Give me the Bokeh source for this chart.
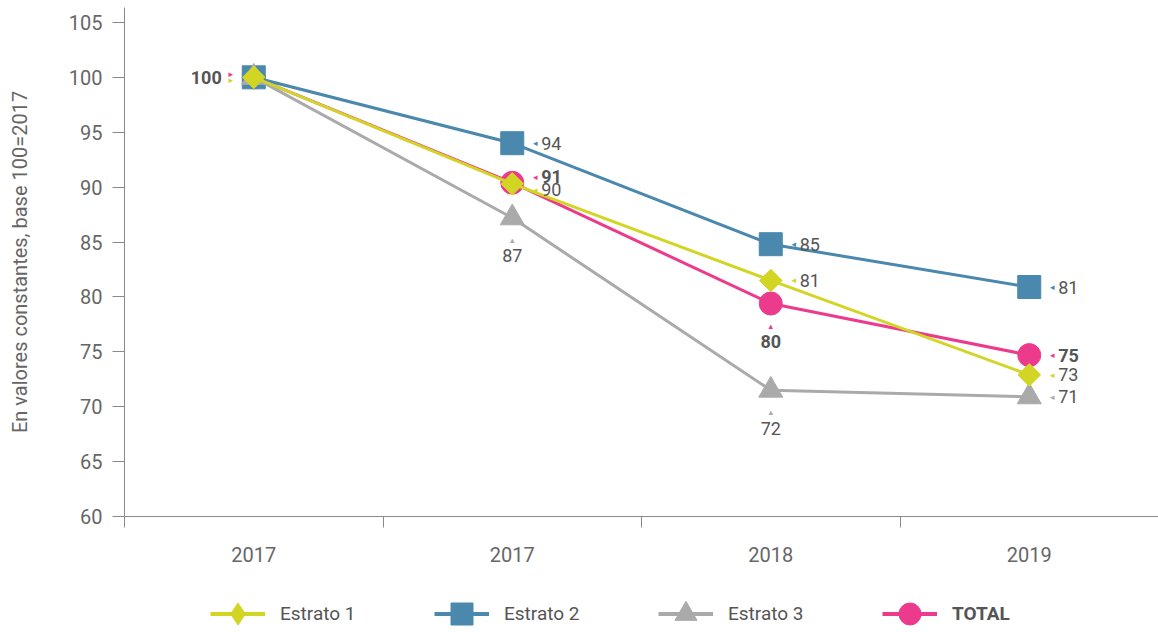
import math
from bokeh.plotting import figure
from bokeh.layouts import column
from bokeh.models import FixedTicker, Legend, LegendItem, ColumnDataSource, Range1d
from bokeh.embed import file_html
from bokeh.resources import INLINE
from bokeh.core.properties import value

# ---------------- data ----------------
categories = ["2017", "2017", "2018", "2019"]
estrato1 = [100, 90.3, 81.5, 72.9]
estrato2 = [100, 94.0, 84.8, 80.9]
estrato3 = [100, 87.2, 71.5, 70.9]
total = [100, 90.4, 79.4, 74.7]
estrato1_labels = ["100", "90", "81", "73"]
estrato2_labels = ["", "94", "85", "81"]
estrato3_labels = ["", "87", "72", "71"]
total_labels = ["100", "91", "80", "75"]
y_ticks = [60, 65, 70, 75, 80, 85, 90, 95, 100, 105]

# ---------------- style ----------------
YEL = "#d2d524"
BLU = "#4a88ad"
GRY = "#aaaaaa"
PNK = "#ec3b8c"
TXT = "#555555"
AX = "#8a8a8a"
FONT = "Roboto"

xs = [i + 0.5 for i in range(len(categories))]

p = figure(width=1158, height=566, output_backend="svg", toolbar_location=None,
           x_range=Range1d(0, 4), y_range=Range1d(60, 106.36),
           min_border_left=124, min_border_right=0, min_border_top=7,
           min_border_bottom=50)
p.outline_line_color = None
p.xgrid.grid_line_color = None
p.ygrid.grid_line_color = None
p.background_fill_color = "white"
p.border_fill_color = "white"

# x axis
p.xaxis.ticker = FixedTicker(ticks=xs, minor_ticks=[0, 1, 2, 3])
p.xaxis.major_label_overrides = {x: c for x, c in zip(xs, categories)}
p.xaxis.major_tick_out = 0
p.xaxis.major_tick_in = 0
p.xaxis.minor_tick_out = 11
p.xaxis.minor_tick_in = 0
p.xaxis.minor_tick_line_color = AX
p.xaxis.axis_line_color = AX
p.xaxis.major_label_standoff = 19
p.xaxis.major_label_text_font = FONT
p.xaxis.major_label_text_font_size = "20px"
p.xaxis.major_label_text_color = "#666666"

# y axis
p.yaxis.ticker = FixedTicker(ticks=y_ticks)
p.yaxis.minor_tick_line_color = None
p.yaxis.major_tick_out = 12
p.yaxis.major_tick_in = 0
p.yaxis.major_tick_line_color = AX
p.yaxis.axis_line_color = AX
p.yaxis.major_label_standoff = 10
p.yaxis.major_label_text_font = FONT
p.yaxis.major_label_text_font_size = "20px"
p.yaxis.major_label_text_color = "#666666"
p.yaxis.axis_label = "En valores constantes, base 100=2017"
p.yaxis.axis_label_text_font = FONT
p.yaxis.axis_label_text_font_style = "normal"
p.yaxis.axis_label_text_font_size = "20px"
p.yaxis.axis_label_text_color = "#666666"
p.yaxis.axis_label_standoff = 34

# name, values, labels, colour, marker, size, angle, label weight, legend marker
series = [
    ("TOTAL", total, total_labels, PNK, "circle", 23, 0, "bold", "circle"),
    ("Estrato 2", estrato2, estrato2_labels, BLU, "square", 23, 0, "normal", "square"),
    ("Estrato 3", estrato3, estrato3_labels, GRY, "triangle", 24, 0, "normal", "triangle"),
    ("Estrato 1", estrato1, estrato1_labels, YEL, "square", 16, math.pi / 4, "normal", "diamond"),
]

for name, vals, labs, col, mk, sz, ang, _, _ in series:
    src = ColumnDataSource(dict(x=xs, y=vals))
    p.line("x", "y", source=src, line_color=col, line_width=3)
    p.scatter("x", "y", source=src, marker=mk, size=sz, angle=ang,
              fill_color=col, line_color=col)

# label placement (style, not data)
below = {("Estrato 3", 1), ("Estrato 3", 2), ("TOTAL", 2)}
left = {("TOTAL", 0)}
nudge = {("TOTAL", 1): -6, ("Estrato 1", 1): 6}


def pointer(x, y, glyph, col, xo, yo):
    p.text([x], [y], text=[glyph], x_offset=xo, y_offset=yo, text_align="center",
           text_baseline="middle", text_font=value("DejaVu Sans"),
           text_font_size="9px", text_color=col)


def label(x, y, lab, xo, yo, align, weight):
    p.text([x], [y], text=[lab], x_offset=xo, y_offset=yo, text_align=align,
           text_baseline="middle", text_font=value(FONT),
           text_font_size="18px", text_color=TXT, text_font_style=weight)


for name, vals, labs, col, mk, sz, ang, weight, _ in series:
    for i, (x, y, lab) in enumerate(zip(xs, vals, labs)):
        if lab == "":
            continue
        key = (name, i)
        if i == 0 and key not in left:
            continue
        dy = nudge.get(key, 0)
        if key in below:
            pointer(x, y, "\u25b4", col, 0, 22)
            label(x, y, lab, 0, 38, "center", weight)
        elif key in left:
            for c, oy in ((PNK, -3), (YEL, 3)):
                pointer(x, y, "\u25b8", c, -23, oy)
            label(x, y, lab, -32, 0, "right", weight)
        else:
            pointer(x, y, "\u25c2", col, 23, dy)
            label(x, y, lab, 29, dy, "left", weight)

# ---------------- legend strip ----------------
lp = figure(width=1158, height=66, output_backend="svg", toolbar_location=None,
            x_range=Range1d(0, 1), y_range=Range1d(0, 1),
            min_border_left=124, min_border_right=0, min_border_top=0,
            min_border_bottom=0, x_axis_type=None, y_axis_type=None)
lp.outline_line_color = None
lp.xgrid.grid_line_color = None
lp.ygrid.grid_line_color = None

# legend item positions, relative to the (aligned) frame's left edge
legend_x = {"Estrato 1": 86, "Estrato 2": 310, "Estrato 3": 534, "TOTAL": 758}
for name, vals, labs, col, mk, sz, ang, weight, lmk in series:
    # off-screen proxies so the legend has glyphs to draw
    lr = lp.line([-10, -9], [-10, -9], line_color=col, line_width=4)
    mr = lp.scatter([-10], [-10], marker=lmk, size=sz,
                    fill_color=col, line_color=col)
    lg = Legend(items=[LegendItem(label=name, renderers=[lr, mr])],
                location=(legend_x[name], -9), orientation="horizontal",
                glyph_width=55, glyph_height=55, label_standoff=15,
                padding=0, margin=0, border_line_color=None,
                background_fill_alpha=0,
                label_text_font=FONT, label_text_font_size="19px",
                label_text_color=TXT, label_text_font_style=weight)
    lp.add_layout(lg, "center")

layout = column(p, lp, spacing=0)
open("out.html", "w").write(file_html(layout, INLINE))
